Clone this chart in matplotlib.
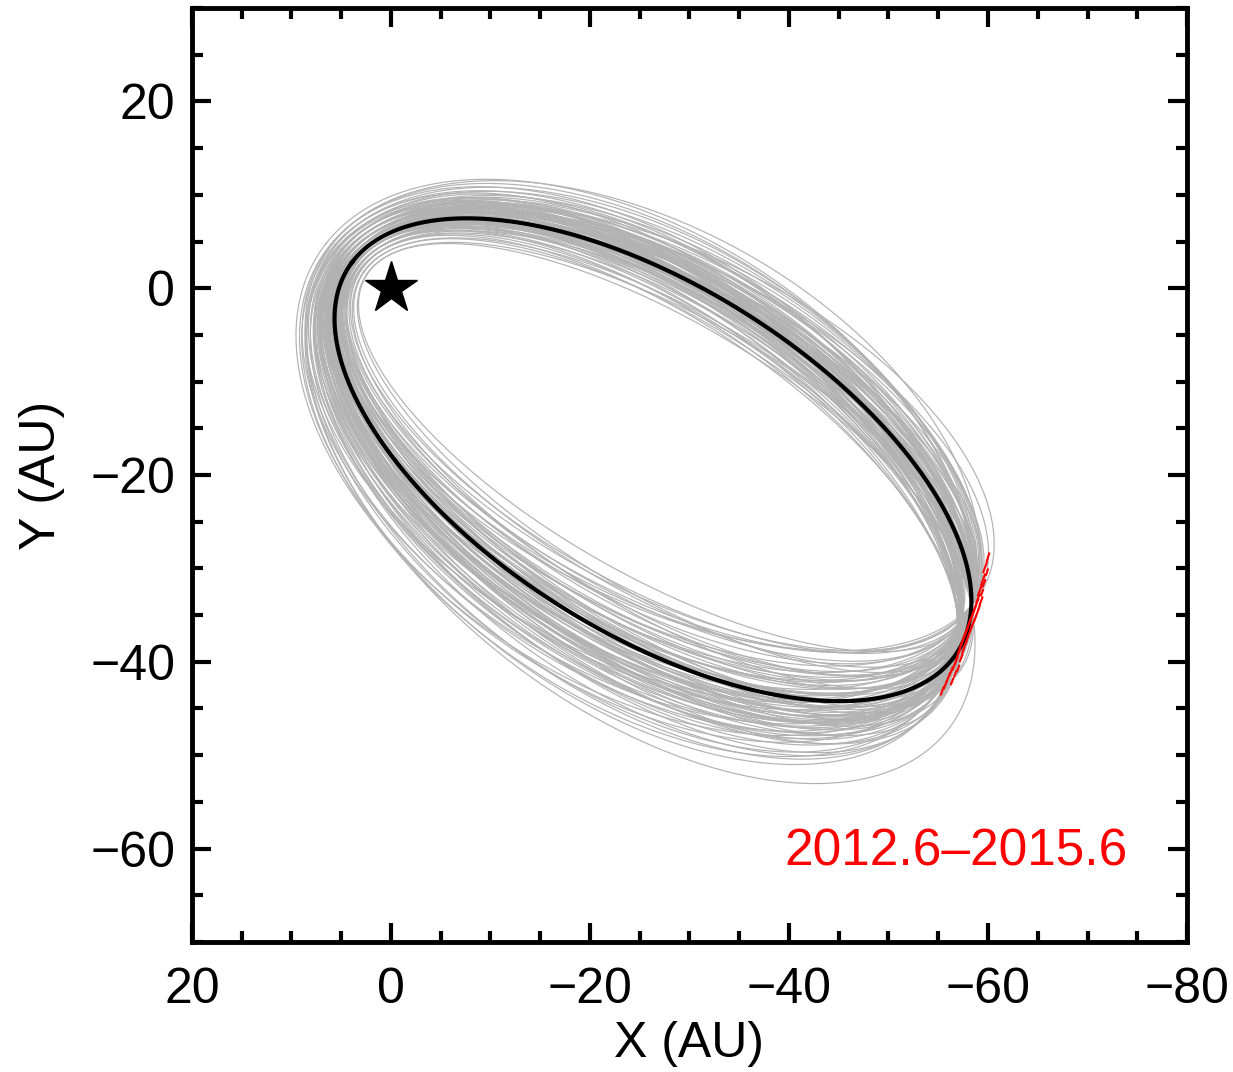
import numpy as np
import matplotlib
matplotlib.use("Agg")
import matplotlib.pyplot as plt
from matplotlib.collections import LineCollection

plt.rcParams['font.family'] = ['Liberation Sans', 'DejaVu Sans']

# Best-fit orbit: semi-major axis (AU), eccentricity, periastron angle (deg)
best_a = 36.9
best_e = 0.87
best_omega = 34.9

# Orbits drawn from the posterior (semi-major axis, eccentricity, periastron angle)
grey_e = [0.86, 0.87, 0.88, 0.85, 0.86, 0.89, 0.84, 0.87, 0.88, 0.85,
          0.83, 0.90, 0.86, 0.84, 0.87, 0.82, 0.89, 0.85, 0.88, 0.86,
          0.81, 0.91, 0.84, 0.87, 0.83, 0.86, 0.88, 0.85, 0.80, 0.89,
          0.84, 0.87, 0.82, 0.90, 0.86, 0.83, 0.88, 0.85, 0.87, 0.84,
          0.86, 0.92, 0.81, 0.89, 0.85, 0.87, 0.83, 0.88, 0.79, 0.86,
          0.84, 0.90, 0.87, 0.82, 0.85, 0.88, 0.86, 0.83, 0.91, 0.84,
          0.87, 0.85, 0.89, 0.80, 0.86, 0.88, 0.84, 0.87, 0.83, 0.90,
          0.85, 0.86, 0.81, 0.88, 0.84, 0.87, 0.82, 0.89, 0.86, 0.85,
          0.83, 0.88, 0.92, 0.84, 0.86, 0.87, 0.80, 0.85, 0.89, 0.86]
grey_omega = [35.2, 33.8, 35.6, 36.4, 33.1, 34.2, 37.3, 36.1, 32.7, 34.5,
              38.2, 33.4, 37.8, 35.1, 31.9, 39.4, 36.5, 32.4, 34.0, 36.9,
              37.0, 32.8, 39.0, 35.5, 34.0, 30.8, 37.2, 38.6, 35.5, 31.5,
              33.6, 38.0, 36.2, 35.8, 34.0, 40.2, 30.0, 35.9, 33.0, 36.8,
              39.1, 33.5, 34.2, 37.9, 31.2, 36.6, 36.0, 35.0, 36.5, 32.2,
              38.1, 31.0, 34.4, 40.6, 37.0, 33.2, 35.7, 32.5, 34.6, 34.8,
              29.4, 39.8, 35.3, 38.0, 38.3, 36.3, 31.8, 37.5, 41.0, 36.9,
              33.7, 36.2, 39.7, 31.4, 35.6, 35.0, 33.3, 33.0, 28.6, 34.9,
              37.6, 38.6, 31.6, 40.0, 33.9, 39.2, 33.0, 36.8, 30.2, 37.3]
grey_a = [37.12, 36.56, 37.05, 37.68, 36.57, 36.40, 37.56, 37.36, 36.14, 37.06,
          37.93, 36.01, 37.45, 37.37, 36.20, 38.38, 36.74, 36.64, 36.46, 37.19,
          37.95, 35.69, 38.03, 37.11, 37.28, 36.30, 37.06, 37.81, 38.13, 35.78,
          37.01, 37.43, 38.00, 37.03, 36.77, 38.52, 35.90, 37.50, 36.38, 37.44,
          37.89, 35.81, 37.67, 37.26, 36.52, 36.99, 37.80, 36.80, 38.55, 36.42,
          37.77, 35.56, 36.73, 38.75, 37.35, 36.25, 37.30, 37.03, 36.37, 37.29,
          36.13, 38.21, 36.83, 38.32, 37.61, 37.37, 36.75, 37.26, 40.06, 36.82,
          36.86, 37.49, 38.59, 35.95, 37.52, 36.93, 37.33, 36.04, 36.38, 37.17,
          37.78, 37.58, 35.27, 38.35, 36.74, 37.87, 37.67, 37.30, 35.71, 37.30]

# Astrometric measurements 2012.6-2015.6: positions (AU) and error half-extents
red_x = [-60.0, -59.7, -59.9, -59.5, -59.6, -59.2, -59.4, -59.0, -59.3, -58.8,
         -59.1, -58.6, -58.9, -58.4, -58.7, -58.2, -58.5, -58.0, -58.3, -57.8,
         -58.1, -57.6, -57.9, -57.4, -57.7, -57.2, -57.5, -57.0, -57.3, -56.8,
         -56.6, -57.0, -56.3, -56.7, -56.0, -56.4, -55.7, -55.4]
red_y = [-28.8, -29.9, -30.4, -31.2, -31.6, -32.3, -32.6, -33.2, -33.5, -33.9,
         -34.2, -34.5, -34.8, -35.1, -35.4, -35.6, -35.9, -36.2, -36.4, -36.8,
         -37.0, -37.3, -37.6, -37.9, -38.2, -38.5, -38.8, -39.2, -39.6, -39.9,
         -40.4, -40.7, -41.0, -41.3, -41.7, -42.1, -42.5, -43.1]
red_ex = [-0.15, -0.20, -0.12, -0.22, -0.16, -0.24, -0.14, -0.20, -0.18, -0.26,
          -0.12, -0.22, -0.16, -0.24, -0.14, -0.20, -0.18, -0.26, -0.12, -0.22,
          -0.16, -0.20, -0.14, -0.24, -0.18, -0.20, -0.12, -0.22, -0.16, -0.18,
          -0.20, -0.14, -0.18, -0.12, -0.20, -0.14, -0.16, -0.18]
red_ey = [0.50, 0.60, 0.40, 0.65, 0.45, 0.70, 0.40, 0.55, 0.50, 0.70,
          0.35, 0.60, 0.45, 0.65, 0.40, 0.55, 0.50, 0.70, 0.35, 0.60,
          0.45, 0.55, 0.40, 0.65, 0.50, 0.55, 0.35, 0.60, 0.45, 0.50,
          0.55, 0.40, 0.50, 0.35, 0.55, 0.40, 0.45, 0.50]

tick_major_x = [20, 0, -20, -40, -60, -80]
tick_major_y = [-60, -40, -20, 0, 20]


def orbit_xy(a, e, omega_deg, n=721):
    E = np.linspace(0.0, 2.0 * np.pi, n)
    w = np.radians(omega_deg)
    xp = a * (np.cos(E) - e)
    yp = a * np.sqrt(1.0 - e ** 2) * np.sin(E)
    return xp * np.cos(w) - yp * np.sin(w), xp * np.sin(w) + yp * np.cos(w)


fig = plt.figure(figsize=(12.33, 10.72), dpi=100)
ax = fig.add_axes([0.1557, 0.1213, 0.8070, 0.8712])

for a, e, w in zip(grey_a, grey_e, grey_omega):
    x, y = orbit_xy(a, e, w)
    ax.plot(x, y, color='#b2b2b2', lw=0.85, zorder=1)

bx, by = orbit_xy(best_a, best_e, best_omega)
ax.plot(bx, by, color='black', lw=3.0, zorder=2)

segs = [[(x - ex, y - ey), (x + ex, y + ey)]
        for x, y, ex, ey in zip(red_x, red_y, red_ex, red_ey)]
ax.add_collection(LineCollection(segs, colors='red', linewidths=1.5, zorder=3))

ax.plot([0], [0], marker='*', color='black', markersize=39, zorder=4, linestyle='none')

ax.text(-74, -60.4, '2012.6\u20132015.6', color='red', ha='right', va='center',
        fontsize=37)

ax.set_xlim(20, -80)
ax.set_ylim(-70, 30)
ax.set_xticks(tick_major_x)
ax.set_yticks(tick_major_y)
ax.set_xticks(np.arange(-80, 21, 5), minor=True)
ax.set_yticks(np.arange(-70, 31, 5), minor=True)

for s in ax.spines.values():
    s.set_linewidth(3.5)
ax.tick_params(which='both', direction='in', top=True, right=True, width=3)
ax.tick_params(which='major', length=14, labelsize=36)
ax.tick_params(which='minor', length=8)
ax.tick_params(axis='x', which='major', pad=18)
ax.tick_params(axis='y', which='major', pad=12)

ax.set_xlabel('X (AU)', fontsize=36, labelpad=6)
ax.set_ylabel('Y (AU)', fontsize=36, labelpad=18)

fig.savefig('out.png', dpi=100)
